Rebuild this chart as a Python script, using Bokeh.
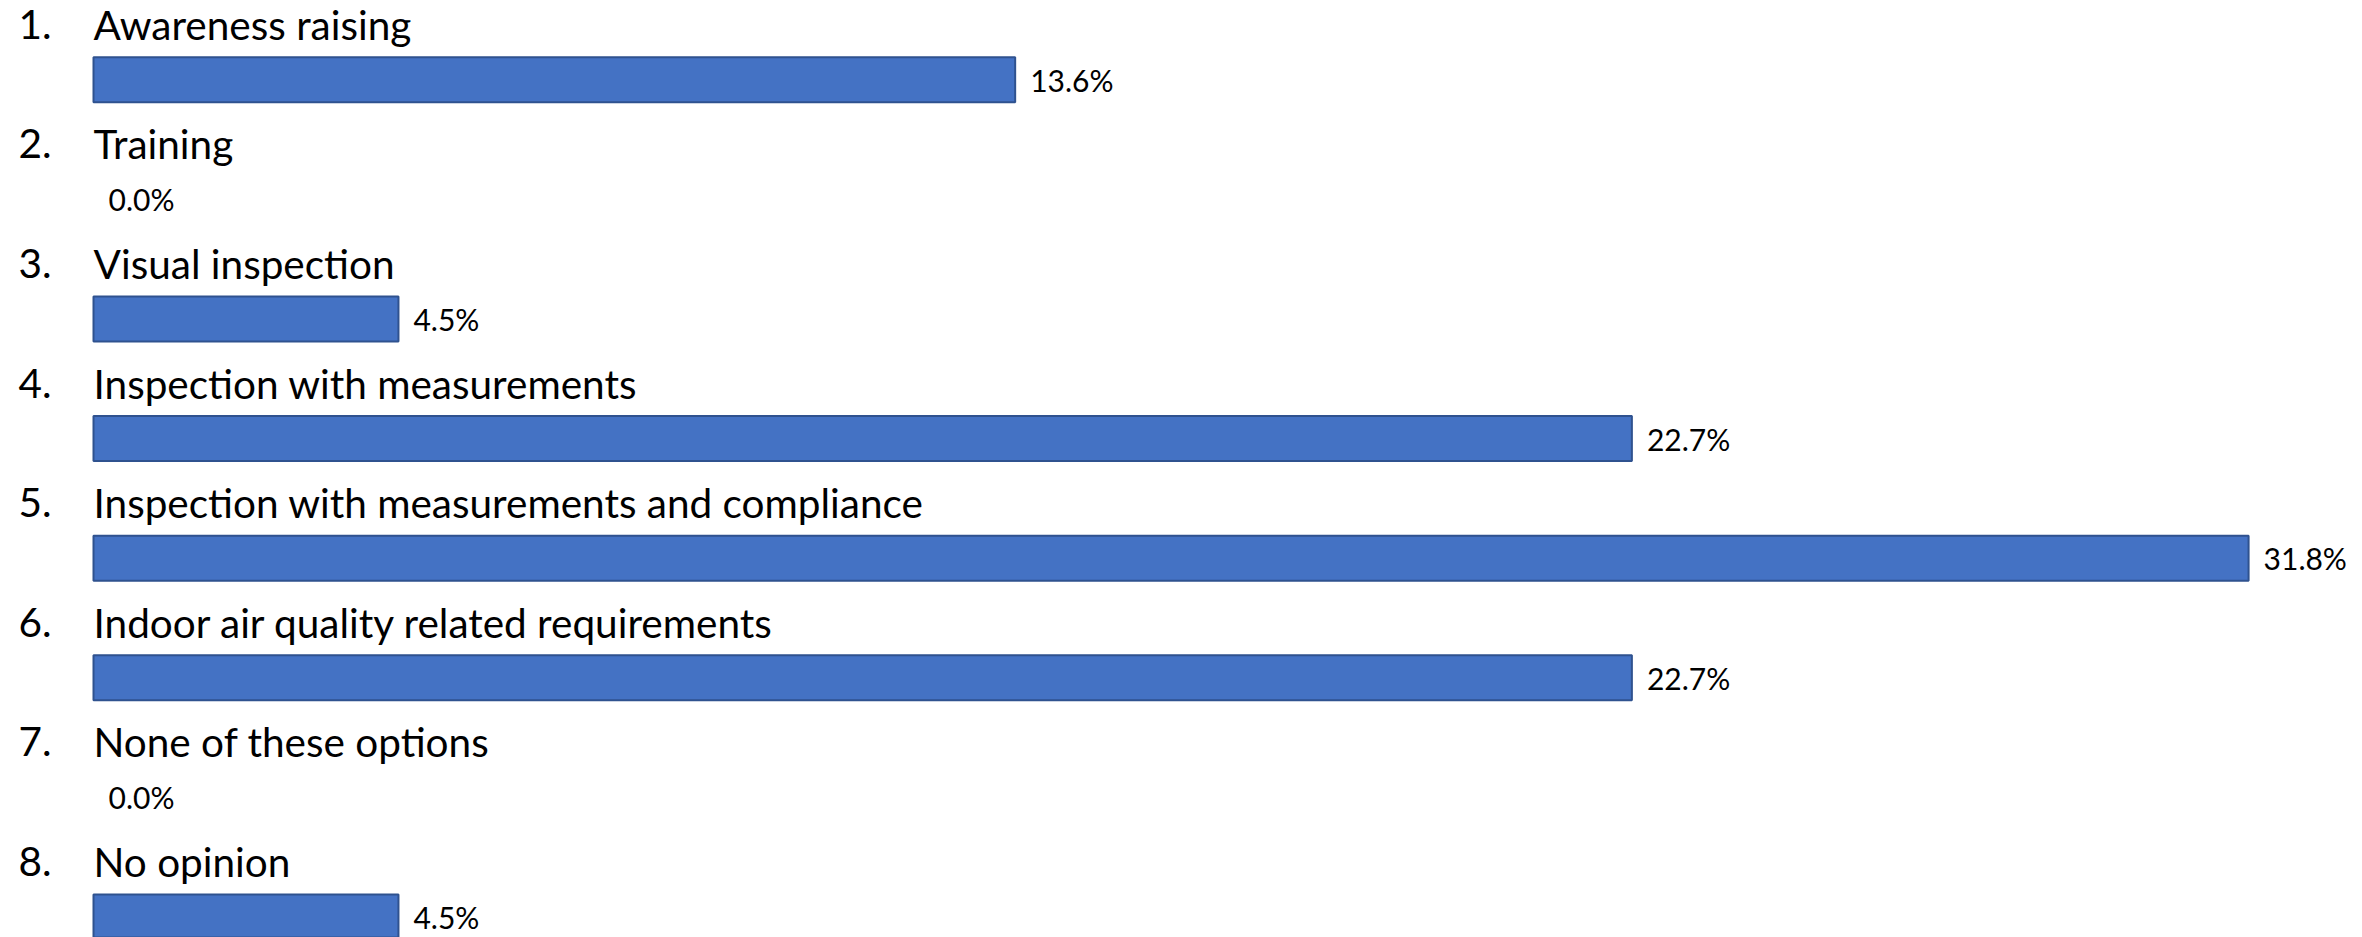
from bokeh.plotting import figure
from bokeh.models import ColumnDataSource, Range1d
from bokeh.core.properties import value
from bokeh.embed import file_html
from bokeh.resources import INLINE

# ---- data ----
numbers = ["1.", "2.", "3.", "4.", "5.", "6.", "7.", "8."]
categories = [
    "Awareness raising",
    "Training",
    "Visual inspection",
    "Inspection with measurements",
    "Inspection with measurements and compliance",
    "Indoor air quality related requirements",
    "None of these options",
    "No opinion",
]
values = [13.6, 0.0, 4.5, 22.7, 31.8, 22.7, 0.0, 4.5]
value_labels = [f"{v:.1f}%" for v in values]

# ---- layout ----
W, H = 2346, 937
px_per_pct = 67.77
left_px = 93
row_px = 119.6
first_center_px = 79.3
bar_px = 45

x_start = -left_px / px_per_pct
x_end = (W - left_px) / px_per_pct
y_top = -first_center_px / row_px
y_bottom = y_top + H / row_px

idx = list(range(len(categories)))
label_shift = 43.5 / row_px

src = ColumnDataSource(dict(
    y=idx,
    v=values,
    num=numbers,
    cat=categories,
    lab=value_labels,
    ly=[i - label_shift for i in idx],
    la=[1.0 if v > 0 else 0.0 for v in values],
))

p = figure(width=W, height=H, output_backend="svg", toolbar_location=None,
           x_range=Range1d(x_start, x_end), y_range=Range1d(y_bottom, y_top),
           min_border=0, outline_line_color=None, background_fill_color="white",
           border_fill_color="white")
p.axis.visible = False
p.grid.visible = False

p.hbar(y="y", left=0, right="v", height=bar_px / row_px, source=src,
       fill_color="#4472C4", line_color="#2F528F", line_width=2,
       line_alpha="la", fill_alpha="la")

font = value("Lato")
p.text(x=0, y="ly", text="cat", source=src, text_font=font,
       text_font_size="40.5px", text_color="#000000", y_offset=-12,
       text_align="left", text_baseline="alphabetic")
p.text(x=0, y="ly", text="num", source=src, text_font=font,
       text_font_size="40.5px", text_color="#000000", x_offset=-75, y_offset=-12,
       text_align="left", text_baseline="alphabetic")
p.text(x="v", y="y", text="lab", source=src, text_font=font,
       text_font_size="30px", text_color="#000000", x_offset=15,
       text_align="left", text_baseline="middle")

open("out.html", "w").write(file_html(p, INLINE))
